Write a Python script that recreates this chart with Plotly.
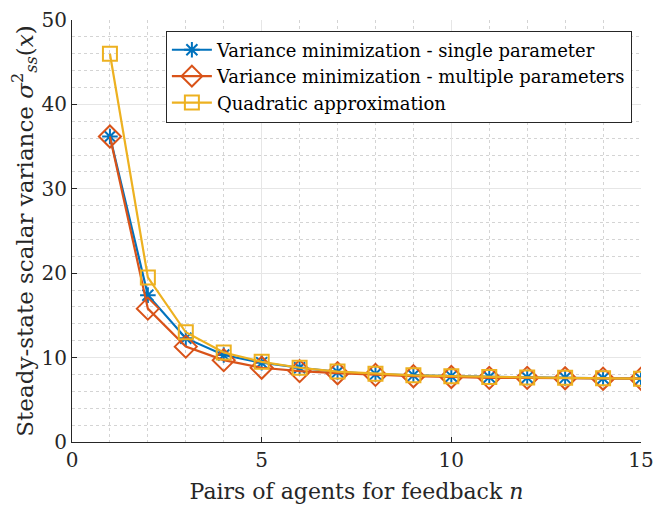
import plotly.graph_objects as go

# pairs of agents
n = list(range(1, 16))

# steady-state variance values
var_single = [36.2, 17.4, 12.3, 10.3, 9.4, 8.8, 8.3, 8.05, 7.9, 7.8, 7.7, 7.65, 7.6, 7.55, 7.5]
var_multi = [36.2, 15.8, 11.3, 9.7, 8.8, 8.4, 8.15, 7.95, 7.8, 7.7, 7.6, 7.6, 7.55, 7.5, 7.5]
var_quad = [46.0, 19.5, 13.0, 10.6, 9.5, 8.8, 8.35, 8.1, 7.9, 7.8, 7.7, 7.65, 7.6, 7.55, 7.5]

names = ['Variance minimization - single parameter',
         'Variance minimization - multiple parameters',
         'Quadratic approximation']

serif = 'DejaVu Serif'
axcol = '#262626'

t1 = go.Scatter(x=n, y=var_single, mode='lines+markers', name=names[0],
                line=dict(color='#0072BD', width=2.2),
                marker=dict(symbol='asterisk-open', size=13,
                            line=dict(color='#0072BD', width=2)))
t2 = go.Scatter(x=n, y=var_multi, mode='lines+markers', name=names[1],
                line=dict(color='#D95319', width=2.2),
                marker=dict(symbol='diamond-open', size=17,
                            line=dict(color='#D95319', width=2)))
t3 = go.Scatter(x=n, y=var_quad, mode='lines+markers', name=names[2],
                line=dict(color='#EDB120', width=2.2),
                marker=dict(symbol='square-open', size=14,
                            line=dict(color='#EDB120', width=2)))

fig = go.Figure(data=[t1, t2, t3])

# page body adds 8px around the figure, so keep it inside the window
fig.update_layout(
    width=648, height=497,
    margin=dict(l=64, r=15, t=12, b=63),
    paper_bgcolor='white', plot_bgcolor='white',
    font=dict(family=serif, color=axcol, size=18),
    legend=dict(x=0.165, y=0.975, xanchor='left', yanchor='top',
                bgcolor='white', bordercolor=axcol, borderwidth=1,
                font=dict(family=serif, size=18, color='black'),
                tracegroupgap=0, itemwidth=40),
)

fig.update_xaxes(
    range=[0, 15], dtick=5, tick0=0, automargin=False,
    showline=True, linecolor=axcol, linewidth=1.2, mirror=False,
    ticks='inside', ticklen=5, tickcolor=axcol, ticklabeloverflow='allow',
    showgrid=True, gridcolor='#e6e6e6', gridwidth=1,
    minor=dict(dtick=1, showgrid=True, gridcolor='#d4d4d4', griddash='dot', ticks=''),
    zeroline=False,
    tickfont=dict(size=20, family=serif),
    title=dict(text='Pairs of agents for feedback <i>n</i>', font=dict(size=22, family=serif), standoff=12),
)
fig.update_yaxes(
    range=[0, 50], dtick=10, tick0=0, automargin=False,
    showline=True, linecolor=axcol, linewidth=1.2, mirror=False,
    ticks='inside', ticklen=5, tickcolor=axcol, ticklabeloverflow='allow',
    showgrid=True, gridcolor='#e6e6e6', gridwidth=1,
    minor=dict(dtick=2, showgrid=True, gridcolor='#d4d4d4', griddash='dot', ticks=''),
    zeroline=False,
    tickfont=dict(size=20, family=serif),
    title=dict(text='Steady-state scalar variance <i>σ</i><sup>2</sup><sub><i>ss</i></sub>(<i>x</i>)',
               font=dict(size=23, family=serif), standoff=4),
)

fig.write_html('out.html')
